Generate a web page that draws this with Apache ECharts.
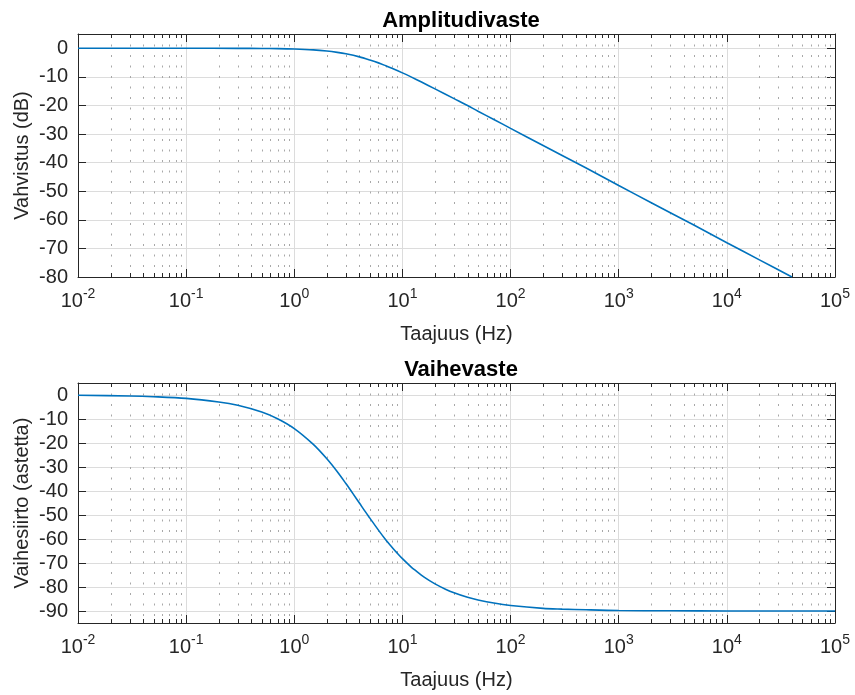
<!DOCTYPE html>
<html>
<head>
<meta charset="utf-8">
<script src="https://cdn.jsdelivr.net/npm/echarts@6/dist/echarts.min.js"></script>
<style>
  html, body { margin: 0; padding: 0; background: #fff; }
  #bode { width: 855px; height: 695px; }
</style>
</head>
<body>
<div id="bode"></div>
<script>
// amplitude response (Hz, dB)
const ampFreq = [0.01, 0.03, 0.1, 0.3, 0.5, 0.7, 1, 1.5, 2, 2.5, 3, 4, 5, 6, 7, 8, 10, 12, 15, 20, 30, 40, 50, 70, 100, 200, 300, 500, 1000, 2000, 3000, 5000, 10000, 20000, 40000]
const ampDb = [0, 0, 0, -0.02, -0.07, -0.13, -0.26, -0.56, -0.97, -1.44, -1.94, -3.0, -4.1, -5.1, -6.1, -7.0, -8.6, -10.0, -11.8, -14.2, -17.6, -20.0, -22.0, -24.9, -28.0, -34.0, -37.5, -41.9, -48.0, -54.0, -57.5, -61.9, -68.0, -74.0, -80.0]

// phase response (Hz, degrees)
const phaseFreq = [0.01, 0.03, 0.05, 0.1, 0.2, 0.3, 0.5, 0.7, 1, 1.5, 2, 2.5, 3, 3.5, 4, 4.5, 5, 6, 7, 8, 9, 10, 12, 13, 16, 20, 25, 30, 40, 50, 70, 100, 200, 300, 500, 1000, 3000, 10000, 100000]
const phaseDeg = [-0.1, -0.4, -0.7, -1.4, -2.9, -4.3, -7.1, -9.9, -14.0, -20.6, -26.6, -32.0, -36.9, -41.2, -45.0, -48.4, -51.3, -56.3, -60.3, -63.4, -66.0, -68.2, -71.6, -72.9, -76.0, -78.7, -80.9, -82.4, -84.3, -85.4, -86.7, -87.7, -88.9, -89.2, -89.5, -89.8, -89.9, -90.0, -90.0]

const ampTicks = [-80, -70, -60, -50, -40, -30, -20, -10, 0]
const phaseTicks = [-90, -80, -70, -60, -50, -40, -30, -20, -10, 0]
const ampRange = [-80, 5]
const phaseRange = [-95, 5]

const chart = echarts.init(document.getElementById('bode'))

const axisColor = '#262626'
const font = 'Liberation Sans, Arial, Helvetica, sans-serif'

// minor decade positions 2..9 x 10^n for the dotted grid
const minorFreq = []
for (let n = -2; n < 5; n++) {
  for (let k = 2; k <= 9; k++) minorFreq.push(k * Math.pow(10, n))
}

function supLabel(v) {
  const e = Math.round(Math.log10(v))
  return '{b|10}{s|' + e + '}'
}

function xAxes(gridIndex, withName) {
  return [
    {
      type: 'log',
      gridIndex: gridIndex,
      min: 0.01,
      max: 100000,
      logBase: 10,
      splitNumber: 7,
      position: 'bottom',
      name: withName ? 'Taajuus (Hz)' : '',
      nameLocation: 'middle',
      nameMoveOverlap: false,
      nameGap: 47,
      nameTextStyle: { color: axisColor, fontSize: 20, fontFamily: font, verticalAlign: 'top' },
      axisLine: { show: true, onZero: false, lineStyle: { color: axisColor, width: 1 } },
      axisTick: { inside: true, length: 8, lineStyle: { color: axisColor } },
      axisLabel: {
        formatter: supLabel,
        margin: 10,
        color: axisColor,
        rich: {
          b: { fontSize: 20, fontFamily: font, color: axisColor },
          s: { fontSize: 14, fontFamily: font, color: axisColor, padding: [0, 0, 14, 0] }
        }
      },
      splitLine: { show: true, lineStyle: { color: '#dcdcdc', width: 1 } }
    },
    {
      type: 'log',
      gridIndex: gridIndex,
      min: 0.01,
      max: 100000,
      logBase: 10,
      splitNumber: 7,
      position: 'top',
      axisLine: { show: true, onZero: false, lineStyle: { color: axisColor, width: 1 } },
      axisTick: { inside: true, length: 8, lineStyle: { color: axisColor } },
      axisLabel: { show: false },
      splitLine: { show: false }
    }
  ]
}

function yAxes(gridIndex, range, ticks, name) {
  return [
    {
      type: 'value',
      gridIndex: gridIndex,
      min: range[0],
      max: range[1],
      position: 'left',
      name: name,
      nameLocation: 'middle',
      nameMoveOverlap: false,
      nameGap: 46,
      nameTextStyle: { color: axisColor, fontSize: 20, fontFamily: font },
      axisLine: { show: true, onZero: false, lineStyle: { color: axisColor, width: 1 } },
      axisTick: { inside: true, length: 8, customValues: ticks, lineStyle: { color: axisColor } },
      axisLabel: { customValues: ticks, margin: 10, color: axisColor, fontSize: 20, fontFamily: font },
      splitLine: { show: true, lineStyle: { color: '#dcdcdc', width: 1 } }
    },
    {
      type: 'value',
      gridIndex: gridIndex,
      min: range[0],
      max: range[1],
      position: 'right',
      axisLine: { show: true, onZero: false, lineStyle: { color: axisColor, width: 1 } },
      axisTick: { inside: true, length: 8, customValues: ticks, lineStyle: { color: axisColor } },
      axisLabel: { show: false },
      splitLine: { show: false }
    }
  ]
}

function minorSeries(xIndex, yIndex, range) {
  return {
    type: 'custom',
    xAxisIndex: xIndex,
    yAxisIndex: yIndex,
    silent: true,
    z: 1,
    clip: false,
    data: minorFreq.map(f => [f, range[0]]),
    encode: { x: 0, y: 1 },
    renderItem: function (params, api) {
      const f = api.value(0)
      const bot = api.coord([f, range[0]])
      const top = api.coord([f, range[1]])
      const x = Math.round(bot[0]) + 0.5
      return {
        type: 'group',
        children: [
          {
            type: 'line',
            shape: { x1: x, y1: top[1], x2: x, y2: bot[1] },
            style: { stroke: '#a8a8a8', lineWidth: 1, lineDash: [2, 8.5] }
          },
          {
            type: 'line',
            shape: { x1: x, y1: bot[1], x2: x, y2: bot[1] - 4 },
            style: { stroke: axisColor, lineWidth: 1 }
          },
          {
            type: 'line',
            shape: { x1: x, y1: top[1], x2: x, y2: top[1] + 4 },
            style: { stroke: axisColor, lineWidth: 1 }
          }
        ]
      }
    }
  }
}

const option = {
  backgroundColor: '#fff',
  animation: false,
  title: [
    {
      text: 'Amplitudivaste',
      left: 456,
      textAlign: 'center',
      top: 5,
      textStyle: { color: '#000', fontSize: 22, fontWeight: 'bold', fontFamily: font }
    },
    {
      text: 'Vaihevaste',
      left: 456,
      textAlign: 'center',
      top: 354,
      textStyle: { color: '#000', fontSize: 22, fontWeight: 'bold', fontFamily: font }
    }
  ],
  grid: [
    { left: 78, top: 34, width: 757, height: 243 },
    { left: 78, top: 383, width: 757, height: 240 }
  ],
  xAxis: [].concat(xAxes(0, true), xAxes(1, true)),
  yAxis: [].concat(
    yAxes(0, ampRange, ampTicks, 'Vahvistus (dB)'),
    yAxes(1, phaseRange, phaseTicks, 'Vaihesiirto (astetta)')
  ),
  series: [
    minorSeries(0, 0, ampRange),
    minorSeries(2, 2, phaseRange),
    {
      name: 'Amplitudi',
      type: 'line',
      xAxisIndex: 0,
      yAxisIndex: 0,
      data: ampFreq.map((f, i) => [f, ampDb[i]]),
      showSymbol: false,
      smooth: 0.3,
      z: 5,
      lineStyle: { color: '#0072BD', width: 1.6 }
    },
    {
      name: 'Vaihe',
      type: 'line',
      xAxisIndex: 2,
      yAxisIndex: 2,
      data: phaseFreq.map((f, i) => [f, phaseDeg[i]]),
      showSymbol: false,
      smooth: 0.3,
      z: 5,
      lineStyle: { color: '#0072BD', width: 1.6 }
    }
  ]
}

chart.setOption(option)
</script>
</body>
</html>
